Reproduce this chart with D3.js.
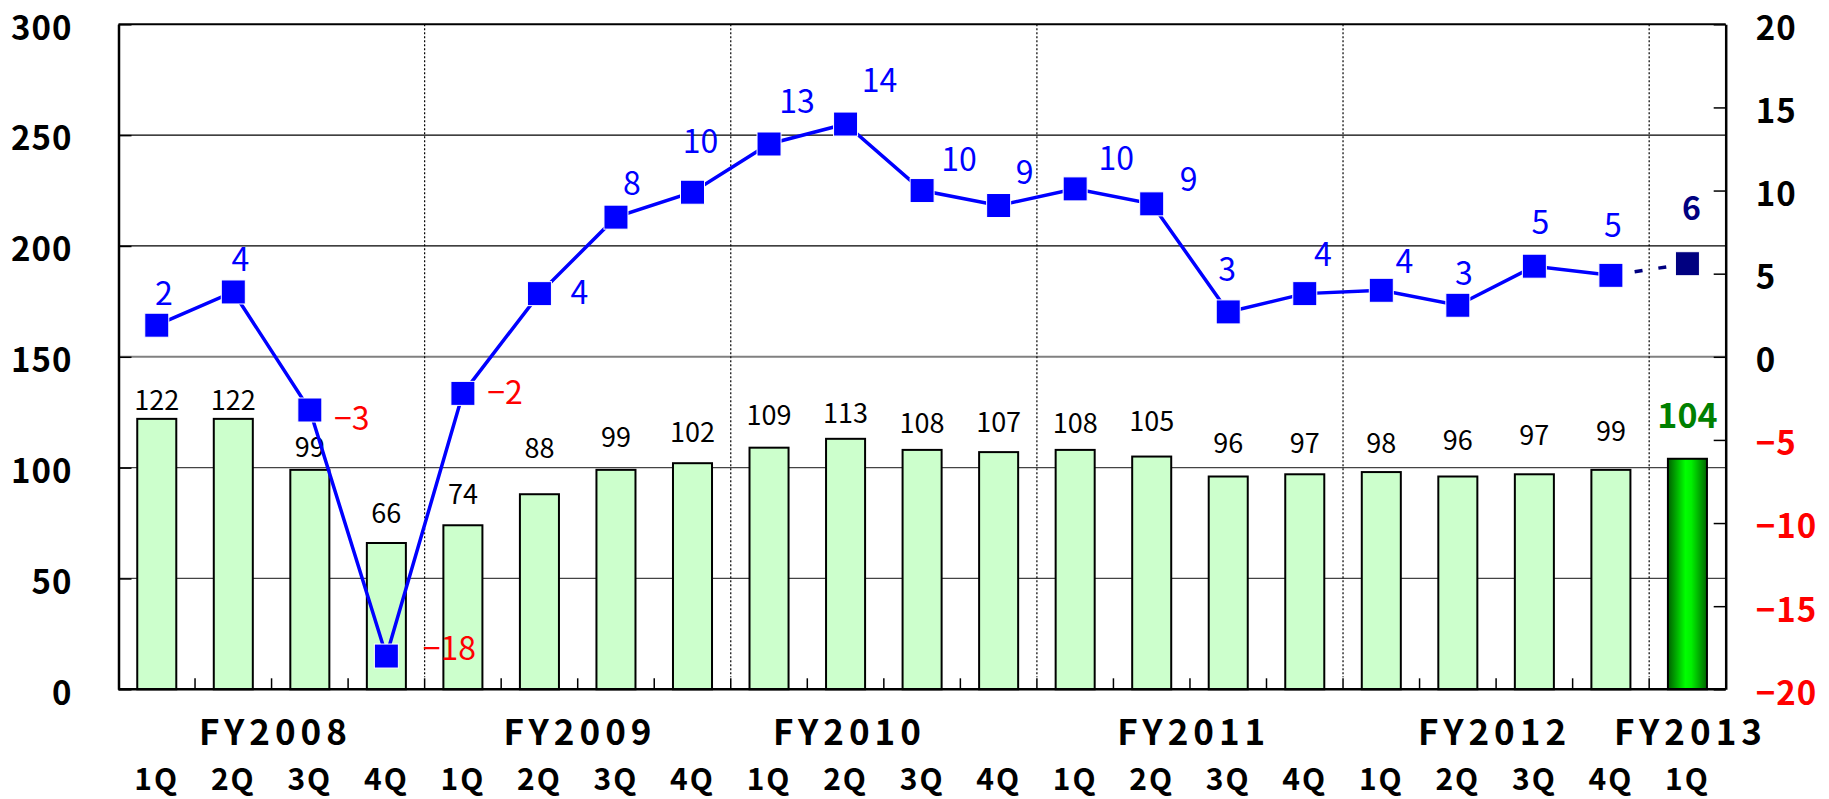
<!DOCTYPE html>
<html lang="ja">
<head>
<meta charset="UTF-8">
<title>Quarterly index and growth</title>
<script src="https://d3js.org/d3.v7.min.js"></script>
<style>
  body { margin: 0; background: #fff; }
  text { font-family: "Noto Sans CJK JP", "Noto Sans", sans-serif; }
</style>
</head>
<body>
<div id="chart"></div>
<script>
// ---- data ----
const quarters = ["1Q","2Q","3Q","4Q","1Q","2Q","3Q","4Q","1Q","2Q","3Q","4Q",
                  "1Q","2Q","3Q","4Q","1Q","2Q","3Q","4Q","1Q"];
const fiscalYears = ["FY2008","FY2009","FY2010","FY2011","FY2012","FY2013"];
const indexValues = [122,122,99,66,74,88,99,102,109,113,108,107,108,105,96,97,98,96,97,99,104];
const growthValues = [1.9,3.9,-3.2,-18.0,-2.2,3.8,8.4,9.9,12.8,14.0,10.0,9.1,10.1,9.2,2.7,3.8,4.0,3.1,5.45,4.9,5.6];
const leftTicks = [0,50,100,150,200,250,300];
const rightTicks = [-20,-15,-10,-5,0,5,10,15,20];

// ---- layout (hand placed labels, like the original) ----
const barLabelLift = [19,19,23,30,31,46,33,31,33,26,27,30,27,36,34,31,29,37,39,39,43];
const lineLabelShift = [[7,-32],[7,-33],[42,8],[63,-8],[42,-1],[40,-1],[16,-34],[8,-51],
  [28,-43],[34,-44],[37,-31],[26,-33],[41,-31],[37,-25],[-1,-43],[18,-39],[23,-29],
  [6,-32],[6,-44],[2,-50],[4,-55]];
const fyCenter = [1.55,5.53,9.05,13.55,17.48,20.04]; // in category units

const W = 1829, H = 799;
const plotLeft = 118.5, plotRight = 1725.7, plotTop = 24.3, plotBottom = 689.3;
const n = indexValues.length;

const svg = d3.select("#chart").append("svg")
    .attr("width", W).attr("height", H);

const x = d3.scaleBand()
    .domain(d3.range(n))
    .range([plotLeft, plotRight])
    .paddingInner(0.49)
    .paddingOuter(0.245);
const step = x.step();
const cx = i => x(i) + x.bandwidth() / 2;

const yL = d3.scaleLinear().domain([0, 300]).range([plotBottom, plotTop]);
const yR = d3.scaleLinear().domain([-20, 20]).range([plotBottom, plotTop]);

// gradient for the latest quarter
const grad = svg.append("defs").append("linearGradient")
    .attr("id", "latest").attr("x1", "0%").attr("x2", "100%");
grad.append("stop").attr("offset", "0%").attr("stop-color", "#006000");
grad.append("stop").attr("offset", "45%").attr("stop-color", "#00ff00");
grad.append("stop").attr("offset", "60%").attr("stop-color", "#00f000");
grad.append("stop").attr("offset", "100%").attr("stop-color", "#006800");

// gridlines
svg.append("g").selectAll("line")
    .data(leftTicks.filter(d => d > 0 && d < 300))
    .join("line")
    .attr("x1", plotLeft).attr("x2", plotRight)
    .attr("y1", d => yL(d)).attr("y2", d => yL(d))
    .attr("stroke", d => d === 150 ? "#808080" : (d > 150 ? "#000" : "#444"))
    .attr("stroke-width", d => d === 150 ? 2 : 1.2);

// top border
svg.append("line")
    .attr("x1", plotLeft).attr("x2", plotRight)
    .attr("y1", yL(300)).attr("y2", yL(300))
    .attr("stroke", "#000").attr("stroke-width", 2);

// fiscal year separators
svg.append("g").selectAll("line")
    .data([4, 8, 12, 16, 20])
    .join("line")
    .attr("x1", d => plotLeft + d * step).attr("x2", d => plotLeft + d * step)
    .attr("y1", plotTop).attr("y2", plotBottom - 12)
    .attr("stroke", "#000").attr("stroke-width", 1.2)
    .attr("stroke-dasharray", "2,2");

// bars
svg.append("g").selectAll("rect")
    .data(indexValues)
    .join("rect")
    .attr("x", (d, i) => x(i))
    .attr("width", x.bandwidth())
    .attr("y", d => yL(d))
    .attr("height", d => yL(0) - yL(d))
    .attr("fill", (d, i) => i === n - 1 ? "url(#latest)" : "#ccffcc")
    .attr("stroke", "#000")
    .attr("stroke-width", 2);

// category ticks on bottom axis
svg.append("g").selectAll("line")
    .data(d3.range(1, n))
    .join("line")
    .attr("x1", d => plotLeft + d * step).attr("x2", d => plotLeft + d * step)
    .attr("y1", plotBottom).attr("y2", plotBottom - 11)
    .attr("stroke", "#000").attr("stroke-width", 1.5);

// bottom axis line
svg.append("line")
    .attr("x1", plotLeft).attr("x2", plotRight)
    .attr("y1", plotBottom).attr("y2", plotBottom)
    .attr("stroke", "#000").attr("stroke-width", 2.5);

// left axis
const gL = svg.append("g")
    .attr("transform", `translate(${plotLeft},0)`)
    .call(d3.axisLeft(yL).tickValues(leftTicks).tickSize(-13).tickSizeOuter(0).tickPadding(46));
gL.select(".domain").attr("stroke-width", 2.5);
gL.selectAll(".tick line").attr("stroke-width", 1.5);
gL.selectAll(".tick text")
    .attr("dy", "0.45em")
    .style("font-size", "33px").style("font-weight", "bold")
    .style("letter-spacing", "1px")
    .attr("fill", "#000");

// right axis
const gR = svg.append("g")
    .attr("transform", `translate(${plotRight},0)`)
    .call(d3.axisRight(yR).tickValues(rightTicks).tickSize(-12).tickSizeOuter(0).tickPadding(30)
        .tickFormat(d => d < 0 ? "\u2212" + Math.abs(d) : d));
gR.select(".domain").attr("stroke-width", 2.5);
gR.selectAll(".tick line").attr("stroke-width", 1.5);
gR.selectAll(".tick text")
    .attr("dy", "0.45em")
    .style("font-size", "33px").style("font-weight", "bold")
    .style("letter-spacing", "1px")
    .attr("fill", d => d < 0 ? "#ff0000" : "#000");

// quarter labels
svg.append("g").selectAll("text")
    .data(quarters)
    .join("text")
    .attr("x", (d, i) => cx(i))
    .attr("y", 790)
    .attr("text-anchor", "middle")
    .style("font-size", "30px").style("font-weight", "bold")
    .style("letter-spacing", "2px")
    .text(d => d);

// fiscal year labels
svg.append("g").selectAll("text")
    .data(fiscalYears)
    .join("text")
    .attr("x", (d, i) => plotLeft + (fyCenter[i] + 0.5) * step)
    .attr("y", 745)
    .attr("text-anchor", "middle")
    .style("font-size", "35px").style("font-weight", "bold")
    .style("letter-spacing", "5px")
    .text(d => d);

// bar value labels
svg.append("g").selectAll("text")
    .data(indexValues)
    .join("text")
    .attr("x", (d, i) => cx(i))
    .attr("y", (d, i) => yL(d) - barLabelLift[i] + (i === n - 1 ? 12 : 10))
    .attr("text-anchor", "middle")
    .style("font-size", "27px")
    .each(function(d, i) {
        if (i === n - 1) {
            d3.select(this).style("font-size", "34px").style("font-weight", "bold").attr("fill", "#008000");
        }
    })
    .text(d => d);

// growth line
const pts = growthValues.map((v, i) => [cx(i), yR(v)]);
const line = d3.line();
svg.append("path")
    .attr("d", line(pts.slice(0, n - 1)))
    .attr("fill", "none")
    .attr("stroke", "#0000ff")
    .attr("stroke-width", 3.5);
svg.append("path")
    .attr("d", line(pts.slice(n - 2)))
    .attr("fill", "none")
    .attr("stroke", "#000080")
    .attr("stroke-width", 3.5)
    .attr("stroke-dasharray", "8,16");

// markers
svg.append("g").selectAll("rect")
    .data(pts)
    .join("rect")
    .attr("x", d => d[0] - 12).attr("y", d => d[1] - 12)
    .attr("width", 24).attr("height", 24)
    .attr("fill", (d, i) => i === n - 1 ? "#000080" : "#0000ff")
    .attr("stroke", "#fff").attr("stroke-width", 1);

// growth labels
svg.append("g").selectAll("text")
    .data(growthValues)
    .join("text")
    .attr("x", (d, i) => cx(i) + lineLabelShift[i][0])
    .attr("y", (d, i) => yR(d) + lineLabelShift[i][1] + 11.7)
    .attr("text-anchor", "middle")
    .style("font-size", "32px")
    .style("font-weight", (d, i) => i === n - 1 ? "bold" : "normal")
    .attr("fill", (d, i) => i === n - 1 ? "#000080" : (Math.round(d) < 0 ? "#ff0000" : "#0000ff"))
    .text(d => {
        const r = Math.round(d);
        return r < 0 ? "\u2212" + Math.abs(r) : r;
    });
</script>
</body>
</html>
